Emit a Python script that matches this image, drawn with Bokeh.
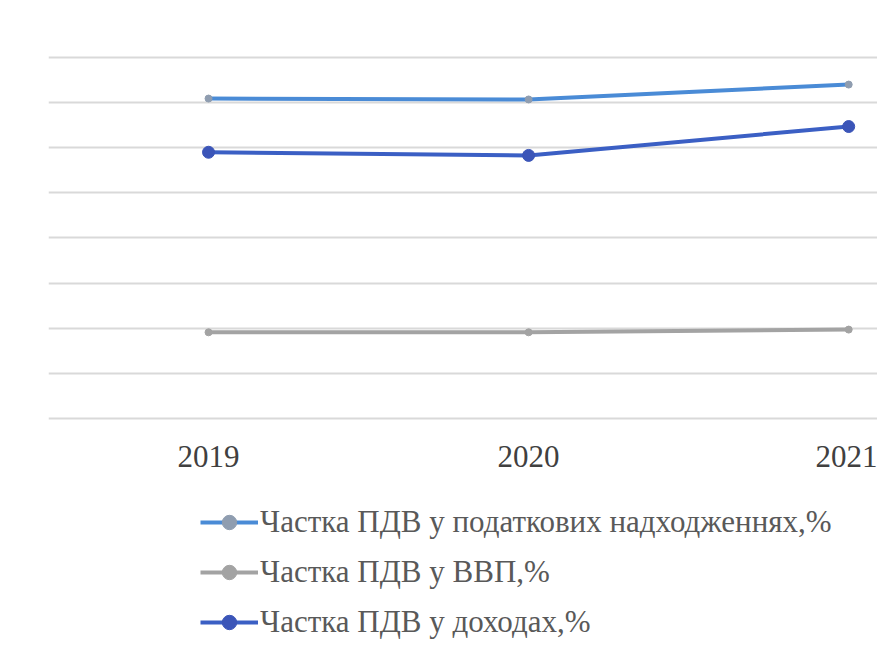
from bokeh.plotting import figure
from bokeh.models import Legend, LegendItem, FixedTicker, Range1d
from bokeh.embed import file_html
from bokeh.resources import INLINE

years = ["2019", "2020", "2021"]
tax_share = [70.9, 70.7, 74.0]      # Частка ПДВ у податкових надходженнях,%
gdp_share = [19.1, 19.1, 19.7]      # Частка ПДВ у ВВП,%
income_share = [59.0, 58.3, 64.7]   # Частка ПДВ у доходах,%
grid_ticks = [0, 10, 20, 30, 40, 50, 60, 70, 80]

labels = ["Частка ПДВ у податкових надходженнях,%",
          "Частка ПДВ у ВВП,%",
          "Частка ПДВ у доходах,%"]
colors = ["#4a8bd6", "#a3a3a3", "#3b5fc4"]
marker_colors = ["#8f9db0", "#a3a3a3", "#3b55b8"]
marker_sizes = [7, 7, 12]
serif = "'Liberation Serif', 'Times New Roman', serif"

xs = list(range(len(years)))

p = figure(width=877, height=658, output_backend="svg", toolbar_location=None,
           x_range=Range1d(-0.5, 2.09), y_range=Range1d(-53.19, 92.63),
           min_border_left=48, min_border_right=0, min_border_top=0,
           min_border_bottom=0)
p.outline_line_color = None
p.background_fill_color = "white"

renderers = []
for vals, c, mc, ms in zip([tax_share, gdp_share, income_share], colors, marker_colors, marker_sizes):
    r1 = p.line(xs, vals, line_color=c, line_width=4)
    r2 = p.scatter(xs, vals, size=ms, fill_color=mc, line_color=mc)
    renderers.append([r1, r2])

p.yaxis.visible = False
p.yaxis.ticker = FixedTicker(ticks=grid_ticks)
p.ygrid.ticker = FixedTicker(ticks=grid_ticks)
p.ygrid.grid_line_color = "#d9d9d9"
p.ygrid.grid_line_width = 2
p.xgrid.grid_line_color = None

xa = p.xaxis[0]
xa.fixed_location = 0
xa.ticker = FixedTicker(ticks=xs)
xa.major_label_overrides = {i: y for i, y in zip(xs, years)}
xa.axis_line_color = None
xa.major_tick_line_color = None
xa.minor_tick_line_color = None
xa.major_label_text_font = serif
xa.major_label_text_font_size = "31px"
xa.major_label_text_color = "#404040"
xa.major_label_standoff = 22

legend = Legend(items=[LegendItem(label=l, renderers=r) for l, r in zip(labels, renderers)],
                orientation="vertical", location=(152, 18),
                label_text_font=serif, label_text_font_size="31px",
                label_text_color="#595959", glyph_width=58, glyph_height=36,
                spacing=14, padding=0, margin=0, label_standoff=2,
                border_line_color=None, background_fill_alpha=0)
p.add_layout(legend, "center")

open("out.html", "w").write(file_html(p, INLINE))
